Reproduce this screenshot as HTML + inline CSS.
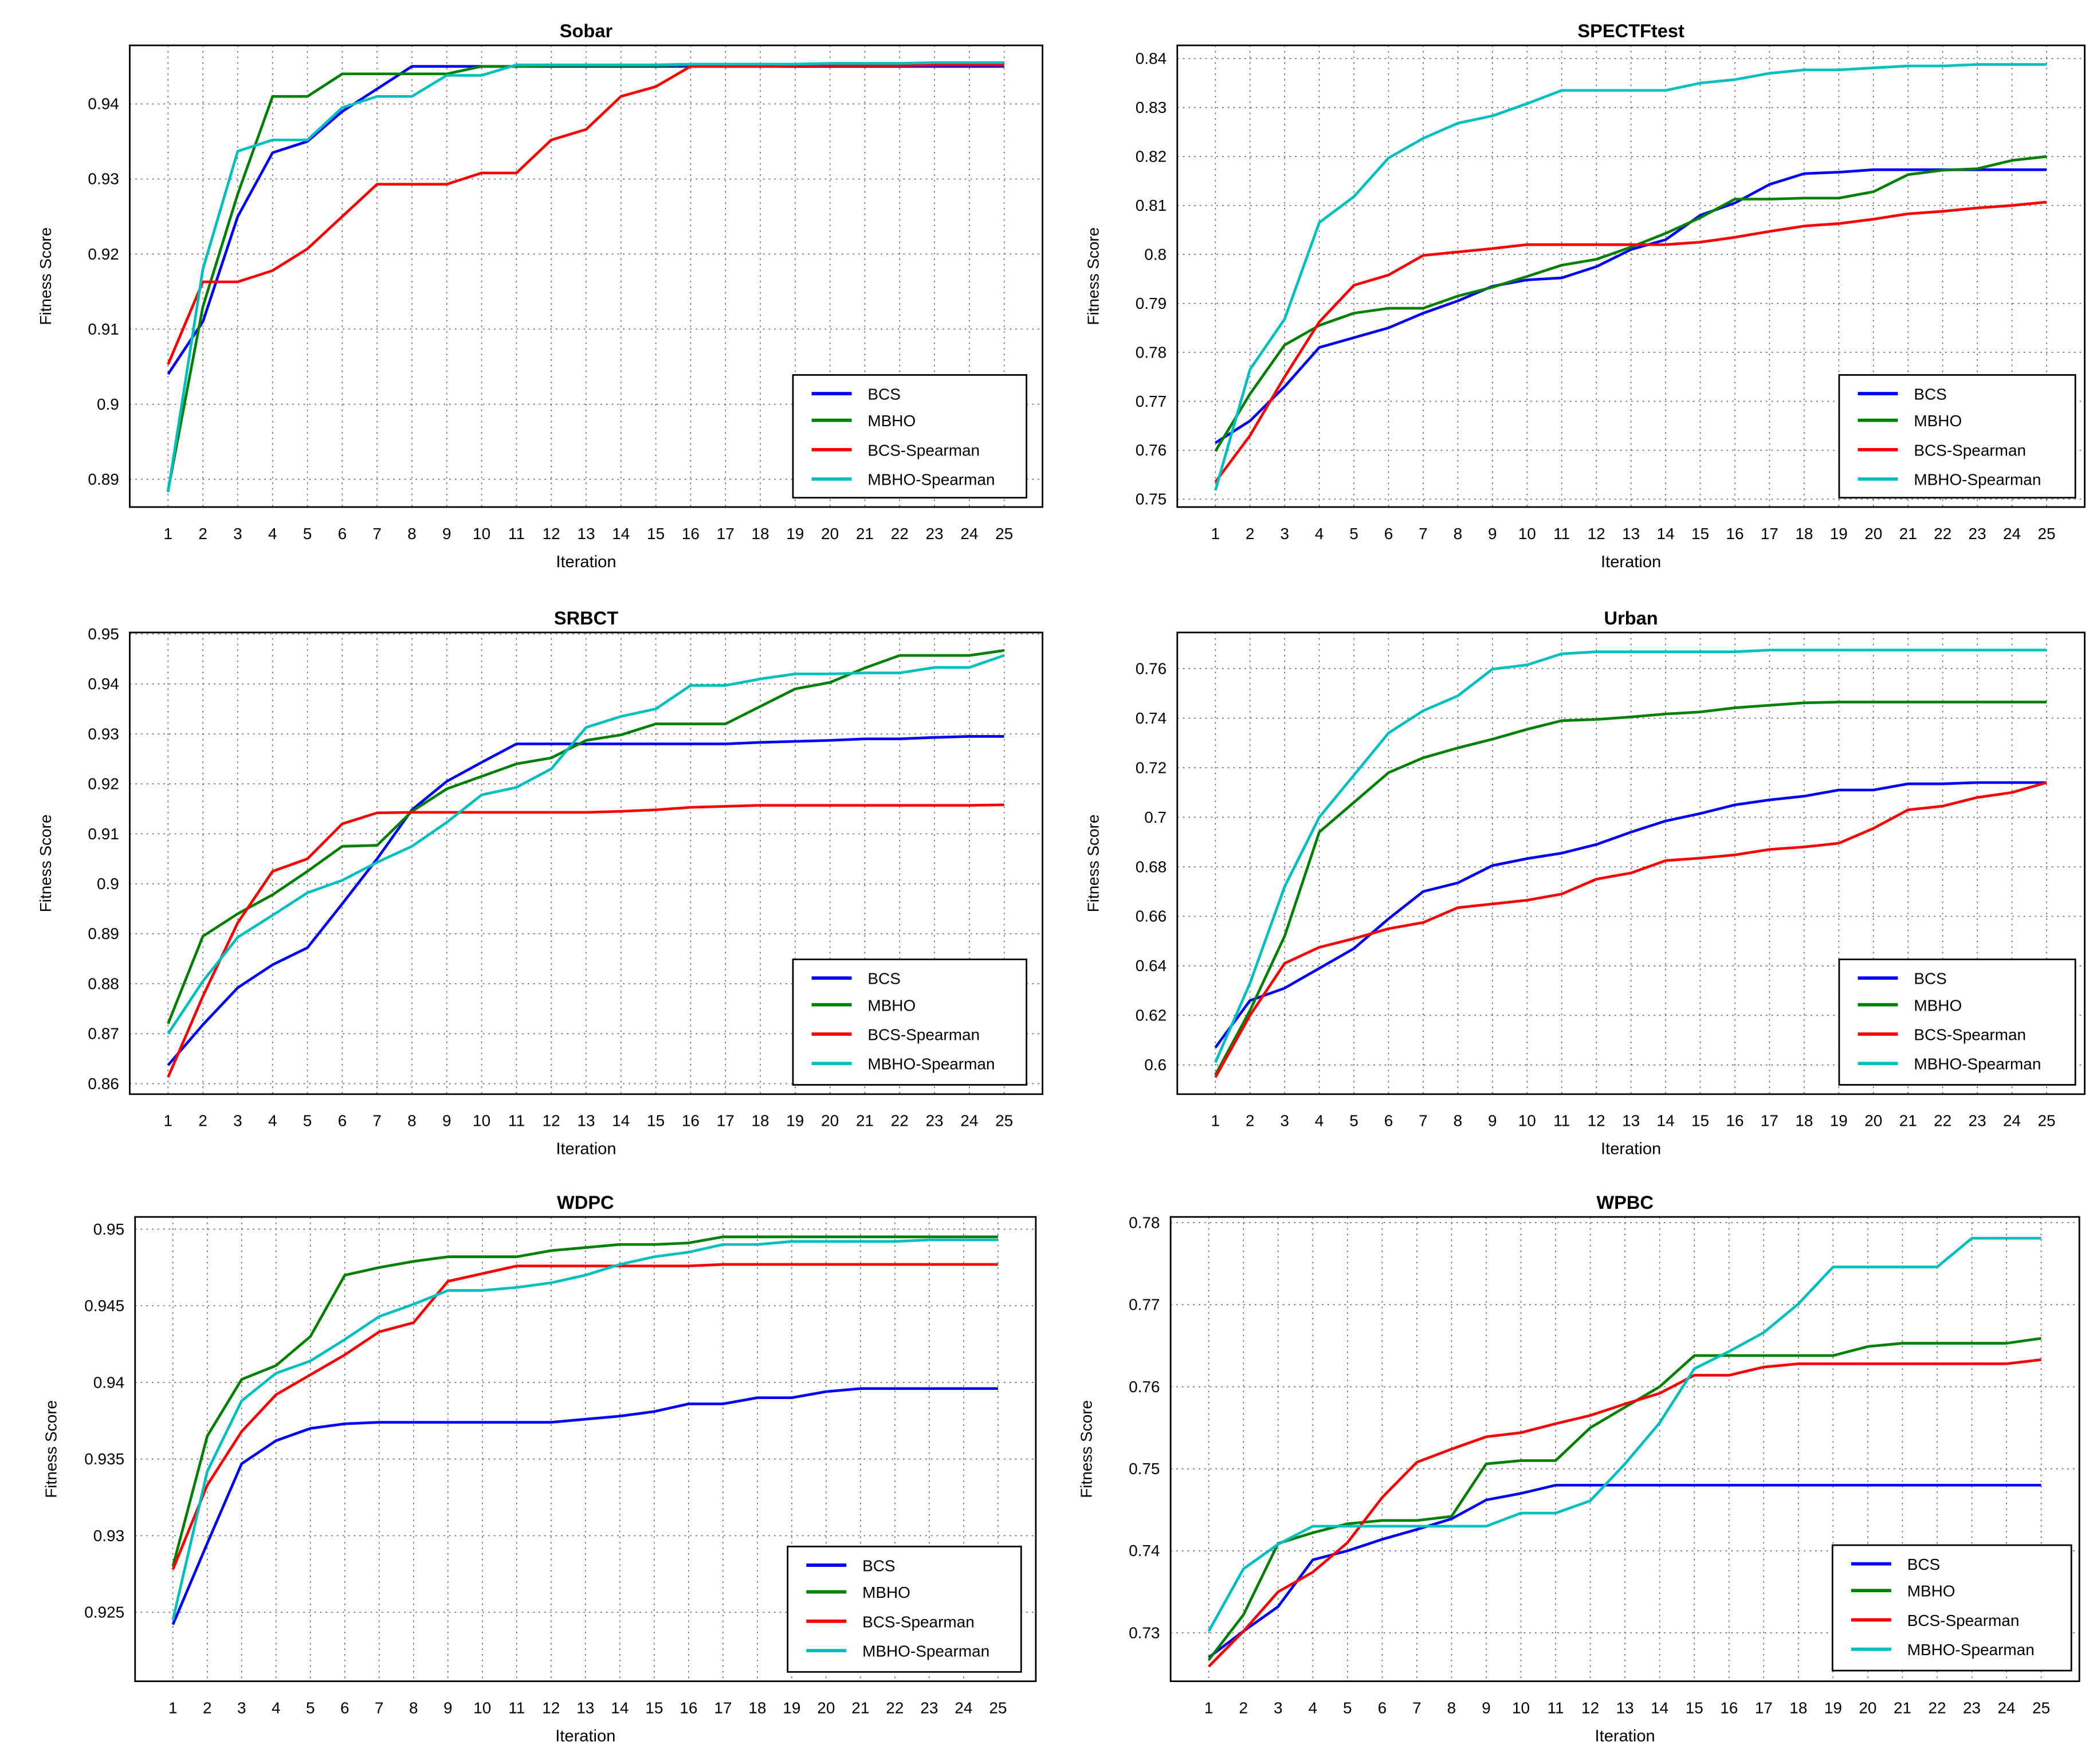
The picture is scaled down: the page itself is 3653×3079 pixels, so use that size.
<!DOCTYPE html>
<html><head><meta charset="utf-8"><style>
html,body{margin:0;padding:0;background:#fff;}
svg{display:block;}
text{font-family:"Liberation Sans",sans-serif;}
</style></head>
<body>
<svg id="fig" width="3653" height="3079" viewBox="0 0 1568 1322" xmlns="http://www.w3.org/2000/svg"></svg>
<script>
const iterations = [1,2,3,4,5,6,7,8,9,10,11,12,13,14,15,16,17,18,19,20,21,22,23,24,25];
const seriesNames = ["BCS","MBHO","BCS-Spearman","MBHO-Spearman"];
const seriesColors = ["#0000ff","#008000","#ff0000","#00bfbf"];

const sobarTicks = [0.89,0.9,0.91,0.92,0.93,0.94];
const sobarBCS = [.904,.911,.925,.9335,.935,.939,.942,.945,.945,.945,.945,.945,.945,.945,.945,.945,.945,.945,.945,.945,.945,.945,.945,.945,.945];
const sobarMBHO = [.8885,.913,.928,.941,.941,.944,.944,.944,.944,.945,.945,.9451,.9451,.9451,.9451,.9452,.9452,.9452,.9452,.9452,.9452,.9453,.9453,.9453,.9453];
const sobarBCSS = [.9053,.9163,.9163,.9178,.9207,.925,.9293,.9293,.9293,.9308,.9308,.9352,.9366,.941,.9423,.945,.945,.945,.9451,.9451,.9451,.9451,.9452,.9452,.9452];
const sobarMBHOS = [.8883,.918,.9337,.9352,.9352,.9395,.941,.941,.9438,.9438,.9452,.9452,.9452,.9452,.9452,.9453,.9453,.9453,.9453,.9454,.9454,.9454,.9455,.9455,.9455];

const spectTicks = [0.75,0.76,0.77,0.78,0.79,0.8,0.81,0.82,0.83,0.84];
const spectBCS = [.7615,.766,.773,.781,.783,.785,.788,.7905,.7935,.7948,.7952,.7975,.801,.803,.808,.8105,.8143,.8165,.8168,.8173,.8173,.8173,.8173,.8173,.8173];
const spectMBHO = [.7598,.7715,.7815,.7855,.788,.789,.789,.7915,.7933,.7955,.7978,.799,.8015,.8043,.8075,.8113,.8113,.8115,.8115,.8128,.8163,.8172,.8175,.8192,.82];
const spectBCSS = [.7535,.763,.775,.7862,.7937,.7958,.7998,.8005,.8012,.802,.802,.802,.802,.802,.8025,.8035,.8047,.8058,.8063,.8072,.8083,.8088,.8095,.81,.8107];
const spectMBHOS = [.7518,.7765,.7868,.8065,.8118,.8197,.8237,.8268,.8283,.8308,.8335,.8335,.8335,.8335,.835,.8357,.837,.8377,.8377,.8381,.8385,.8385,.8388,.8388,.8388];

const srbctTicks = [0.86,0.87,0.88,0.89,0.9,0.91,0.92,0.93,0.94,0.95];
const srbctBCS = [.8637,.8718,.8792,.8838,.8872,.896,.905,.9148,.9205,.9243,.928,.928,.928,.928,.928,.928,.928,.9283,.9285,.9287,.929,.929,.9293,.9295,.9295];
const srbctMBHO = [.872,.8895,.894,.8978,.9025,.9075,.9077,.9145,.919,.9215,.924,.9252,.9287,.9298,.932,.932,.932,.9355,.939,.9403,.9432,.9457,.9457,.9457,.9467];
const srbctBCSS = [.8613,.8775,.8922,.9025,.905,.912,.9142,.9143,.9143,.9143,.9143,.9143,.9143,.9145,.9148,.9153,.9155,.9157,.9157,.9157,.9157,.9157,.9157,.9157,.9158];
const srbctMBHOS = [.87,.8805,.8893,.8937,.8982,.9007,.9043,.9075,.9123,.9178,.9193,.923,.9313,.9335,.935,.9397,.9397,.941,.942,.942,.9422,.9422,.9433,.9433,.9457];

const urbanTicks = [0.6,0.62,0.64,0.66,0.68,0.7,0.72,0.74,0.76];
const urbanBCS = [.607,.626,.631,.639,.647,.659,.670,.6735,.6805,.6833,.6855,.689,.694,.6985,.7015,.705,.707,.7085,.711,.711,.7135,.7135,.714,.714,.714];
const urbanMBHO = [.596,.622,.652,.694,.706,.718,.724,.728,.7315,.7355,.739,.7395,.7405,.7417,.7425,.7442,.7452,.7462,.7465,.7465,.7465,.7465,.7465,.7465,.7465];
const urbanBCSS = [.595,.620,.641,.6475,.651,.655,.6575,.6635,.665,.6665,.669,.675,.6775,.6825,.6835,.6848,.687,.688,.6895,.6955,.703,.7045,.708,.710,.714];
const urbanMBHOS = [.601,.633,.672,.700,.717,.734,.743,.749,.7598,.7615,.766,.7668,.7668,.7668,.7668,.7668,.7675,.7675,.7675,.7675,.7675,.7675,.7675,.7675,.7675];

const wdpcTicks = [0.925,0.93,0.935,0.94,0.945,0.95];
const wdpcBCS = [.9242,.9295,.9347,.9362,.937,.9373,.9374,.9374,.9374,.9374,.9374,.9374,.9376,.9378,.9381,.9386,.9386,.939,.939,.9394,.9396,.9396,.9396,.9396,.9396];
const wdpcMBHO = [.928,.9365,.9402,.9411,.943,.947,.9475,.9479,.9482,.9482,.9482,.9486,.9488,.949,.949,.9491,.9495,.9495,.9495,.9495,.9495,.9495,.9495,.9495,.9495];
const wdpcBCSS = [.9278,.9333,.9368,.9392,.9405,.9418,.9433,.9439,.9466,.9471,.9476,.9476,.9476,.9476,.9476,.9476,.9477,.9477,.9477,.9477,.9477,.9477,.9477,.9477,.9477];
const wdpcMBHOS = [.9245,.9342,.9388,.9406,.9414,.9428,.9443,.9451,.946,.946,.9462,.9465,.947,.9477,.9482,.9485,.949,.949,.9492,.9492,.9492,.9492,.9493,.9493,.9493];

const wpbcTicks = [0.73,0.74,0.75,0.76,0.77,0.78];
const wpbcBCS = [.727,.7302,.7332,.7389,.74,.7414,.7426,.7439,.7462,.747,.748,.748,.748,.748,.748,.748,.748,.748,.748,.748,.748,.748,.748,.748,.748];
const wpbcMBHO = [.7267,.7322,.7409,.7422,.7433,.7437,.7437,.7442,.7506,.751,.751,.755,.7575,.76,.7638,.7638,.7638,.7638,.7638,.7649,.7653,.7653,.7653,.7653,.7659];
const wpbcBCSS = [.7259,.7302,.735,.7374,.741,.7465,.7508,.7524,.7539,.7544,.7555,.7565,.7579,.7592,.7614,.7614,.7624,.7628,.7628,.7628,.7628,.7628,.7628,.7628,.7633];
const wpbcMBHOS = [.7302,.7378,.7408,.743,.743,.743,.743,.743,.743,.7446,.7446,.7461,.7506,.7556,.7622,.7643,.7666,.7701,.7746,.7746,.7746,.7746,.7781,.7781,.7781];

const panels = [
 {name:"sobar",title:"Sobar",box:[97,34,781,380],ymin:0.8863,ymax:0.9478,ticks:sobarTicks,series:[sobarBCS,sobarMBHO,sobarBCSS,sobarMBHOS],leg:[594,281,769,373]},
 {name:"spectftest",title:"SPECTFtest",box:[882,34,1562,380],ymin:0.7484,ymax:0.8427,ticks:spectTicks,series:[spectBCS,spectMBHO,spectBCSS,spectMBHOS],leg:[1378,281,1555,373]},
 {name:"srbct",title:"SRBCT",box:[97,474,781,820],ymin:0.8579,ymax:0.9503,ticks:srbctTicks,series:[srbctBCS,srbctMBHO,srbctBCSS,srbctMBHOS],leg:[594,719,769,813]},
 {name:"urban",title:"Urban",box:[882,474,1562,820],ymin:0.5882,ymax:0.7746,ticks:urbanTicks,series:[urbanBCS,urbanMBHO,urbanBCSS,urbanMBHOS],leg:[1378,719,1555,813]},
 {name:"wdpc",title:"WDPC",box:[101,912,776,1260],ymin:0.9205,ymax:0.9508,ticks:wdpcTicks,series:[wdpcBCS,wdpcMBHO,wdpcBCSS,wdpcMBHOS],leg:[590,1159,765,1253]},
 {name:"wpbc",title:"WPBC",box:[877,912,1558,1260],ymin:0.7241,ymax:0.7807,ticks:wpbcTicks,series:[wpbcBCS,wpbcMBHO,wpbcBCSS,wpbcMBHOS],leg:[1373,1158,1552,1252]}
];

const NS="http://www.w3.org/2000/svg";
const svg=document.getElementById('fig');
function mk(tag,attrs,parent){const e=document.createElementNS(NS,tag);for(const k in attrs)e.setAttribute(k,attrs[k]);(parent||svg).appendChild(e);return e;}
function fmt(v){return String(parseFloat(v.toFixed(4)));}

panels.forEach(p=>{
  const [x0,y0,x1,y1]=p.box;
  const g=mk('g',{});
  
  
  const n=iterations.length;
  const xs=i=>x0+(i-1+1.1)/(n-1+2.2)*(x1-x0);
  const ys=v=>y1-(v-p.ymin)/(p.ymax-p.ymin)*(y1-y0);
  // grid
  iterations.forEach(it=>{
    const l=mk('line',{x1:xs(it),x2:xs(it),y1:y0,y2:y1,stroke:'#666','stroke-width':0.7,'stroke-dasharray':'1.2,3'},g);
    
    
    const t=mk('text',{x:xs(it),y:y1+24,'font-size':12,'text-anchor':'middle',fill:'#000'},g);
    t.textContent=it;
    
    
  });
  p.ticks.forEach(v=>{
    const l=mk('line',{x1:x0,x2:x1,y1:ys(v),y2:ys(v),stroke:'#666','stroke-width':0.7,'stroke-dasharray':'1.2,3'},g);
    
    
    const t=mk('text',{x:x0-8,y:ys(v)+4,'font-size':12,'text-anchor':'end',fill:'#000'},g);
    t.textContent=fmt(v);
    
    
  });
  const box=mk('rect',{x:x0,y:y0,width:x1-x0,height:y1-y0,fill:'none',stroke:'#000','stroke-width':1.2},g);
  
  
  // series
  p.series.forEach((arr,si)=>{
    const d=arr.map((v,i)=>(i?'L':'M')+xs(iterations[i]).toFixed(2)+','+ys(v).toFixed(2)).join('');
    const path=mk('path',{d:d,fill:'none',stroke:seriesColors[si],'stroke-width':2,'stroke-linejoin':'round'},g);
    
    
  });
  // title, axis labels
  const tt=mk('text',{x:(x0+x1)/2,y:y0-6,'font-size':14,'font-weight':'bold','text-anchor':'middle'},g);
  tt.textContent=p.title;
  
  
  const xt=mk('text',{x:(x0+x1)/2,y:y1+45,'font-size':12.5,'text-anchor':'middle'},g);
  xt.textContent='Iteration';
  
  
  const yx=x0-59, yy=(y0+y1)/2;
  const yt=mk('text',{x:yx,y:yy,'font-size':12,'text-anchor':'middle',transform:`rotate(-90 ${yx} ${yy})`},g);
  yt.textContent='Fitness Score';
  
  
  // legend
  const [lx0,ly0,lx1,ly1]=p.leg;
  const lg=mk('g',{},g);
  
  
  mk('rect',{x:lx0,y:ly0,width:lx1-lx0,height:ly1-ly0,fill:'#fff',stroke:'#000','stroke-width':1.2},lg);
  const rows=[14,34,56,78];
  seriesNames.forEach((nm,si)=>{
    const e=mk('g',{},lg);
    
    
    mk('line',{x1:lx0+14,x2:lx0+44,y1:ly0+rows[si],y2:ly0+rows[si],stroke:seriesColors[si],'stroke-width':2.5},e);
    const t=mk('text',{x:lx0+56,y:ly0+rows[si]+4.5,'font-size':12},e);
    t.textContent=nm;
  });
});
</script>
</body></html>
